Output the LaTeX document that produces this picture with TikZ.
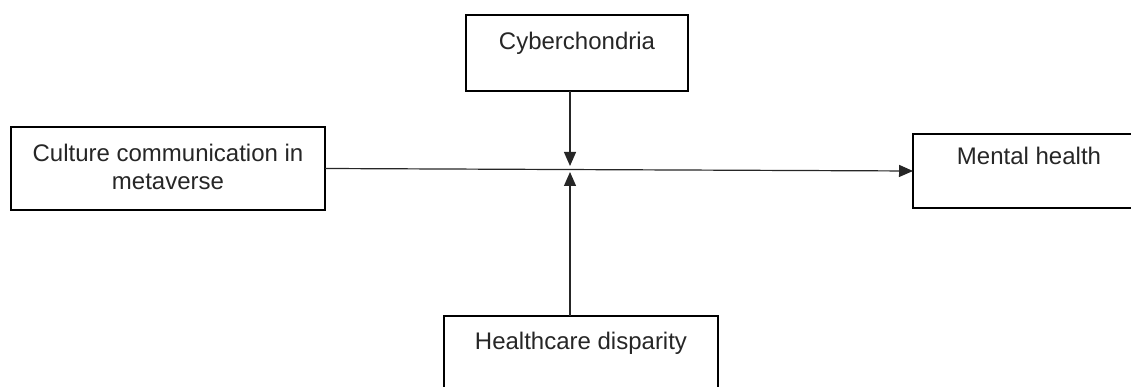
\documentclass[tikz,border=0pt]{standalone}
\usepackage{fontspec}
\setmainfont{Liberation Sans}
\usetikzlibrary{arrows.meta}
\newcommand{\boxlabel}[4]{\parbox[t][#2pt][t]{#1pt}{\centering\rule{0pt}{#3pt}#4\par}}
\tikzset{
  vbox/.style={draw=black, line width=2.5pt, inner sep=0pt, outer sep=0pt, text=black!85,
    font=\fontsize{24}{28}\selectfont},
  conn/.style={draw=black!85, line width=1.2pt, -{Triangle[length=14pt,width=12pt]}}
}
\begin{document}
\begin{tikzpicture}[x=1pt,y=-1pt]
\useasboundingbox (0,0) rectangle (1131,387);
\clip (0,0) rectangle (1131,387);
\node[vbox] (cyber) at (577,53) {\boxlabel{222}{76}{35}{Cyberchondria}};
\node[vbox] (culture) at (168,168.5) {\boxlabel{314}{83}{35}{Culture communication in\\metaverse}};
\node[vbox] (mental) at (1029,171) {\boxlabel{232}{74}{31}{Mental health}};
\node[vbox] (health) at (581,356) {\boxlabel{274}{80}{33}{Healthcare disparity}};
\coordinate (j1) at (570,166);
\coordinate (j2) at (570,172);
\draw[conn] (culture.east) -- (mental.west);
\draw[conn] (cyber.south -| j1) -- (j1);
\draw[conn] (health.north -| j2) -- (j2);
\end{tikzpicture}
\end{document}
